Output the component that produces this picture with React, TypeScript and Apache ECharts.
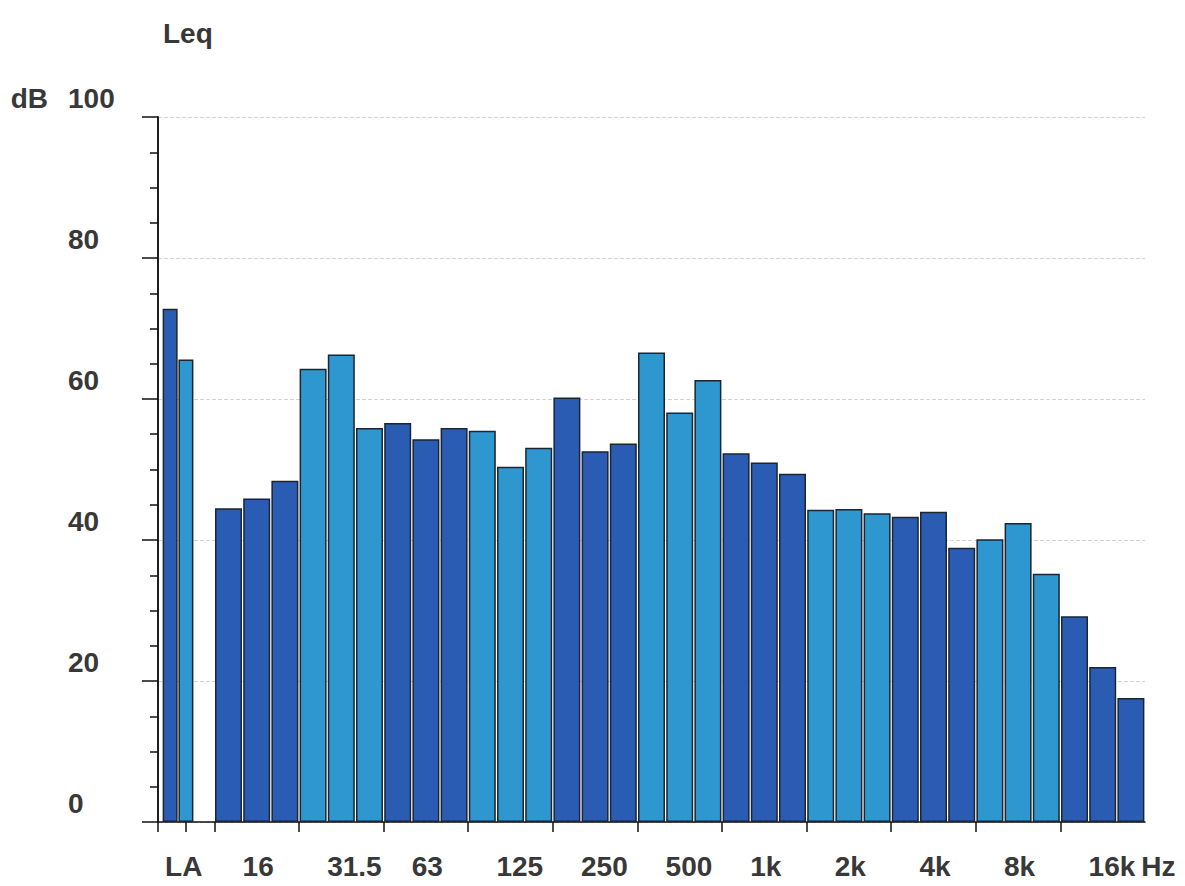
import { useEffect, useRef } from "react";
import * as echarts from "echarts";

// Overall A-weighted level (two readings)
const laValues = [72.8, 65.6];
const laSlots = [0.43, 0.99]; // position inside the LA slot pair (axis units)

// 1/3-octave band levels (dB)
const bandNames = [
  "12.5", "16", "20", "25", "31.5", "40", "50", "63", "80", "100", "125",
  "160", "200", "250", "315", "400", "500", "630", "800", "1k", "1.25k",
  "1.6k", "2k", "2.5k", "3.15k", "4k", "5k", "6.3k", "8k", "10k", "12.5k",
  "16k", "20k",
];
const bandValues = [
  44.5, 45.9, 48.4, 64.3, 66.3, 55.9, 56.6, 54.3, 55.9, 55.5, 50.4,
  53.1, 60.2, 52.6, 53.7, 66.6, 58.1, 62.7, 52.3, 51.0, 49.4,
  44.3, 44.4, 43.8, 43.3, 44.0, 38.9, 40.1, 42.4, 35.2, 29.2,
  22.0, 17.6,
];

// x tick labels
const bandLabels = ["16", "31.5", "63", "125", "250", "500", "1k", "2k", "4k", "8k", "16k"];
const laLabel = "LA";
const laLabelPos = 0.25;

const LA_SLOTS = 2;
const X_MAX = LA_SLOTS + bandNames.length;

const DARK = "#2b5cb4";
const LIGHT = "#2f97d0";
const TEXT = "#383838";
const FONT = "'Liberation Sans', Arial, sans-serif";

function bandColor(i: number) {
  return Math.floor(i / 3) % 2 === 0 ? DARK : LIGHT;
}

export default function App() {
  const ref = useRef<HTMLDivElement>(null);

  useEffect(() => {
    const chart = echarts.init(ref.current!, null, { renderer: "svg" });

    const labelPositions: number[] = [laLabelPos];
    const labelText: Record<string, string> = { [String(laLabelPos)]: laLabel };
    bandLabels.forEach((l) => {
      const p = LA_SLOTS + bandNames.indexOf(l);
      labelPositions.push(p);
      labelText[String(p)] = l;
    });

    const tickPositions: number[] = [0, 1, LA_SLOTS];
    for (let p = LA_SLOTS + 3; p < X_MAX; p += 3) tickPositions.push(p);

    const option: any = {
      animation: false,
      backgroundColor: "#ffffff",
      textStyle: { fontFamily: FONT },
      title: {
        text: "Leq",
        left: 158,
        top: 14,
        textStyle: { fontSize: 28, fontWeight: "bold", color: TEXT, fontFamily: FONT },
      },
      grid: {
        left: 158,
        right: 40,
        top: 117,
        bottom: 64,
        containLabel: false,
        outerBoundsMode: "none",
      },
      xAxis: [
        {
          type: "value",
          min: 0,
          max: X_MAX,
          name: "Hz",
          nameLocation: "end",
          nameGap: -4,
          nameTextStyle: {
            fontSize: 28,
            fontWeight: "bold",
            color: TEXT,
            fontFamily: FONT,
            align: "left",
            verticalAlign: "top",
            lineHeight: 88,
          },
          axisLine: { show: true, onZero: false, lineStyle: { color: "#111", width: 1.5 } },
          axisTick: {
            show: true,
            length: 10,
            customValues: tickPositions,
            lineStyle: { color: "#111", width: 1.5 },
          },
          axisLabel: {
            show: true,
            customValues: labelPositions,
            formatter: (v: number) => labelText[String(v)] ?? "",
            align: "left",
            margin: 30,
            fontSize: 28,
            fontWeight: "bold",
            color: TEXT,
            fontFamily: FONT,
          },
          splitLine: { show: false },
        },
        {
          type: "value",
          min: 0,
          max: X_MAX,
          show: false,
        },
      ],
      yAxis: [
        {
          type: "value",
          min: 0,
          max: 100,
          interval: 20,
          name: "dB",
          nameLocation: "end",
          nameGap: 19,
          nameTextStyle: {
            fontSize: 28,
            fontWeight: "bold",
            color: TEXT,
            fontFamily: FONT,
            align: "right",
            verticalAlign: "middle",
            padding: [0, 110, 0, 0],
          },
          axisLine: { show: true, lineStyle: { color: "#111", width: 1.5 } },
          axisTick: { show: true, length: 16, lineStyle: { color: "#111", width: 1.5 } },
          minorTick: { show: true, splitNumber: 4, length: 8, lineStyle: { color: "#111", width: 1.5 } },
          axisLabel: {
            align: "left",
            margin: 90,
            fontSize: 28,
            fontWeight: "bold",
            color: TEXT,
            fontFamily: FONT,
            verticalAlign: "bottom",
            lineHeight: 37,
          },
          splitLine: { show: true, lineStyle: { color: "#d2d2d2", width: 1, type: "dashed" } },
        },
        {
          type: "value",
          min: 0,
          max: 100,
          position: "right",
          axisLine: { show: true, lineStyle: { color: "#111", width: 1.5 } },
          axisTick: { show: false },
          axisLabel: { show: false },
          splitLine: { show: false },
        },
      ],
      series: [
        {
          name: "Bands",
          type: "bar",
          xAxisIndex: 0,
          yAxisIndex: 0,
          barWidth: 27,
          itemStyle: { borderColor: "#1c2530", borderWidth: 1.5 },
          data: bandValues.map((v, i) => ({
            name: bandNames[i],
            value: [LA_SLOTS + i + 0.5, v],
            itemStyle: { color: bandColor(i) },
          })),
        },
        {
          name: "LA",
          type: "bar",
          xAxisIndex: 1,
          yAxisIndex: 0,
          barWidth: 15,
          itemStyle: { borderColor: "#1c2530", borderWidth: 1.5 },
          data: laValues.map((v, i) => ({
            name: laLabel,
            value: [laSlots[i], v],
            itemStyle: { color: i === 0 ? DARK : LIGHT },
          })),
        },
      ],
    };

    chart.setOption(option);
    return () => chart.dispose();
  }, []);

  return (
    <div
      ref={ref}
      style={{ position: "absolute", left: 0, top: 0, width: 1185, height: 886, background: "#fff" }}
    />
  );
}
